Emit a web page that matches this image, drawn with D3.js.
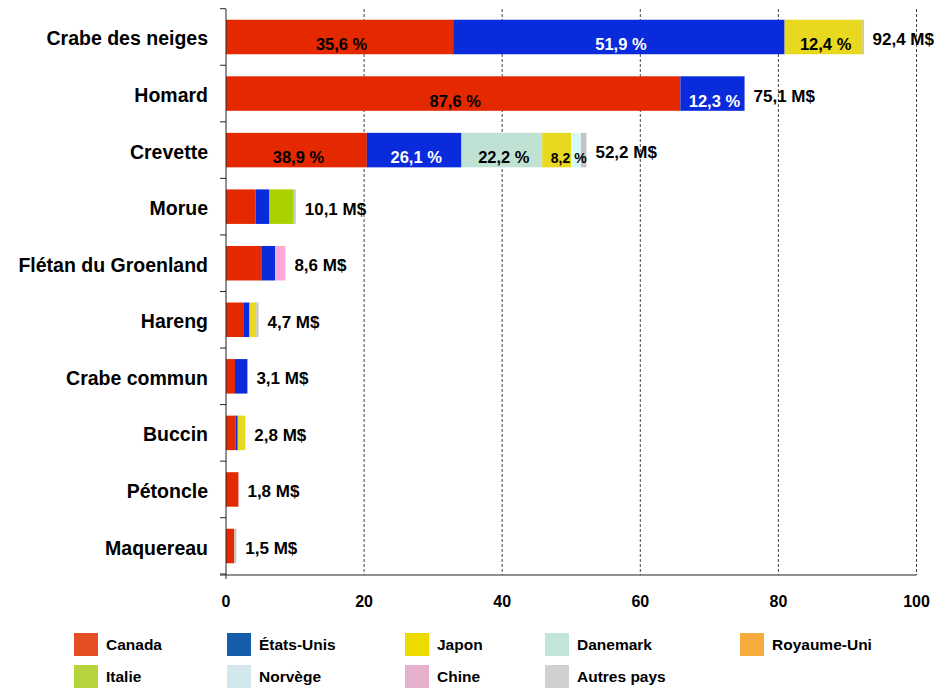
<!DOCTYPE html>
<html><head><meta charset="utf-8">
<script src="https://cdn.jsdelivr.net/npm/d3@7"></script>
<style>
html,body{margin:0;padding:0;background:#fff;}
svg{display:block;font-family:"Liberation Sans",Arial,sans-serif;}
</style></head>
<body>
<svg id="chart" width="935" height="688"></svg>
<script>
// ---- data ----
const categories = ["Crabe des neiges","Homard","Crevette","Morue","Flétan du Groenland","Hareng","Crabe commun","Buccin","Pétoncle","Maquereau"];
const seriesNames = ["Canada","États-Unis","Japon","Danemark","Royaume-Uni","Italie","Norvège","Chine","Autres pays"];
const stackOrder = ["Canada","États-Unis","Danemark","Japon","Royaume-Uni","Italie","Norvège","Chine","Autres pays"];
const canada     = [32.9, 65.8, 20.4, 4.3, 5.2, 2.6, 1.3, 1.4, 1.8, 1.2];
const etatsUnis  = [48.0,  9.3, 13.7, 2.0, 1.9, 0.8, 1.8, 0.3, 0,   0  ];
const japon      = [11.3,  0,    4.2, 0,   0,   1.0, 0,   1.1, 0,   0  ];
const danemark   = [0,     0,   11.7, 0,   0,   0,   0,   0,   0,   0  ];
const royaumeUni = [0,     0,    0,   0,   0,   0,   0,   0,   0,   0  ];
const italie     = [0,     0,    0,   3.5, 0,   0,   0,   0,   0,   0  ];
const norvege    = [0,     0,    1.4, 0,   0,   0,   0,   0,   0,   0  ];
const chine      = [0,     0,    0,   0,   1.5, 0,   0,   0,   0,   0  ];
const autres     = [0.2,   0,    0.8, 0.3, 0,   0.3, 0,   0,   0,   0.3];
const totalLabels = ["92,4 M$","75,1 M$","52,2 M$","10,1 M$","8,6 M$","4,7 M$","3,1 M$","2,8 M$","1,8 M$","1,5 M$"];
const pctLabels = [
  ["Crabe des neiges","Canada","35,6 %"],
  ["Crabe des neiges","États-Unis","51,9 %"],
  ["Crabe des neiges","Japon","12,4 %"],
  ["Homard","Canada","87,6 %"],
  ["Homard","États-Unis","12,3 %"],
  ["Crevette","Canada","38,9 %"],
  ["Crevette","États-Unis","26,1 %"],
  ["Crevette","Danemark","22,2 %"],
  ["Crevette","Japon","8,2 %"]
];
const xTicks = [0,20,40,60,80,100];

// ---- styles ----
const barColors = ["#E42800","#0A2BDC","#E8D820","#C0E2D4","#F5A83A","#AAD200","#D6F8F8","#FFA8D8","#C4C4C4"];
const legendColors = ["#E34E25","#135DAB","#EEDC00","#C2E5D9","#F5AC3C","#B5D33A","#D3E8EE","#E6B1CE","#CFD0D2"];

const seriesValues = [canada, etatsUnis, japon, danemark, royaumeUni, italie, norvege, chine, autres];
const table = categories.map((c,i)=>{
  const row = {category:c};
  seriesNames.forEach((s,j)=>row[s]=seriesValues[j][i]);
  return row;
});

const svg = d3.select("#chart");
const x = d3.scaleLinear().domain([0,100]).range([226,916.5]);
const y = d3.scaleBand().domain(categories).range([9,574]).paddingInner(0.39).paddingOuter(0.19);
const color = d3.scaleOrdinal().domain(seriesNames).range(barColors);

// gridlines
svg.append("g").selectAll("line").data(xTicks.filter(t=>t>0)).join("line")
  .attr("x1",d=>x(d)).attr("x2",d=>x(d)).attr("y1",9).attr("y2",575)
  .attr("stroke","#444").attr("stroke-width",1).attr("stroke-dasharray","3,2");

// bars
const stack = d3.stack().keys(stackOrder)(table);
const layers = svg.append("g").selectAll("g").data(stack).join("g")
  .attr("fill",d=>color(d.key));
layers.selectAll("rect").data(d=>d).join("rect")
  .attr("x",d=>x(d[0])).attr("width",d=>Math.max(0,x(d[1])-x(d[0])))
  .attr("y",d=>y(d.data.category)).attr("height",y.bandwidth());

// axes
const yAxis = svg.append("g").attr("transform","translate(226,0)");
yAxis.append("line").attr("x1",0).attr("x2",0).attr("y1",9).attr("y2",579).attr("stroke","#222");
const bounds = categories.map(c=>y(c)-y.step()*y.paddingInner()/2).concat([574]);
yAxis.selectAll(".tk").data(bounds).join("line").attr("class","tk")
  .attr("x1",-6).attr("x2",0).attr("y1",d=>d).attr("y2",d=>d).attr("stroke","#222");

const xAxisG = svg.append("g").attr("transform","translate(0,575)");
xAxisG.append("line").attr("x1",220).attr("x2",916.5).attr("y1",0).attr("y2",0).attr("stroke","#222");
xAxisG.selectAll("text").data(xTicks).join("text")
  .attr("x",d=>x(d)).attr("y",32).attr("text-anchor","middle")
  .attr("font-size","16px").attr("font-weight","bold").attr("fill","#000").text(d=>d);

// category labels
svg.append("g").selectAll("text").data(categories).join("text")
  .attr("x",208).attr("y",d=>y(d)+y.bandwidth()/2+8.5).attr("text-anchor","end")
  .attr("font-size","19.5px").attr("font-weight","bold").attr("fill","#000").text(d=>d);

// percentage labels
const stackByKey = {};
stack.forEach(s=>stackByKey[s.key]=s);
svg.append("g").selectAll("text").data(pctLabels).join("text")
  .each(function(d){
    const i = categories.indexOf(d[0]);
    const seg = stackByKey[d[1]][i];
    const narrow = (x(seg[1])-x(seg[0]))<40;
    const cx = (x(seg[0])+x(seg[1]))/2 + (narrow ? 12 : 2);
    d3.select(this).attr("x",cx).attr("y",y(d[0])+y.bandwidth()/2+13)
      .attr("text-anchor","middle").attr("font-weight","bold")
      .attr("font-size", narrow ? "14px" : "16.5px")
      .attr("fill", d[1]==="États-Unis" ? "#fff" : "#000").text(d[2]);
  });

// total labels
svg.append("g").selectAll("text").data(categories).join("text")
  .attr("font-size","17px").attr("font-weight","bold").attr("fill","#000")
  .text((d,i)=>totalLabels[i])
  .attr("y",d=>y(d)+y.bandwidth()/2+8)
  .each(function(d,i){
    const end = x(d3.sum(seriesValues, s=>s[i]));
    const w = this.getComputedTextLength();
    d3.select(this).attr("x", Math.min(end+9, 934-w));
  });

// legend
const legendX = [74,227,405,545,740];
const legendY = [633,665];
const lg = svg.append("g").selectAll("g").data(seriesNames).join("g")
  .attr("transform",(d,i)=>`translate(${legendX[i%5]},${legendY[Math.floor(i/5)]})`);
lg.append("rect").attr("width",24).attr("height",23).attr("fill",(d,i)=>legendColors[i]);
lg.append("text").attr("x",32).attr("y",16.5).attr("font-size","15.5px").attr("font-weight","bold")
  .attr("fill","#000").text(d=>d);
</script>
</body></html>
